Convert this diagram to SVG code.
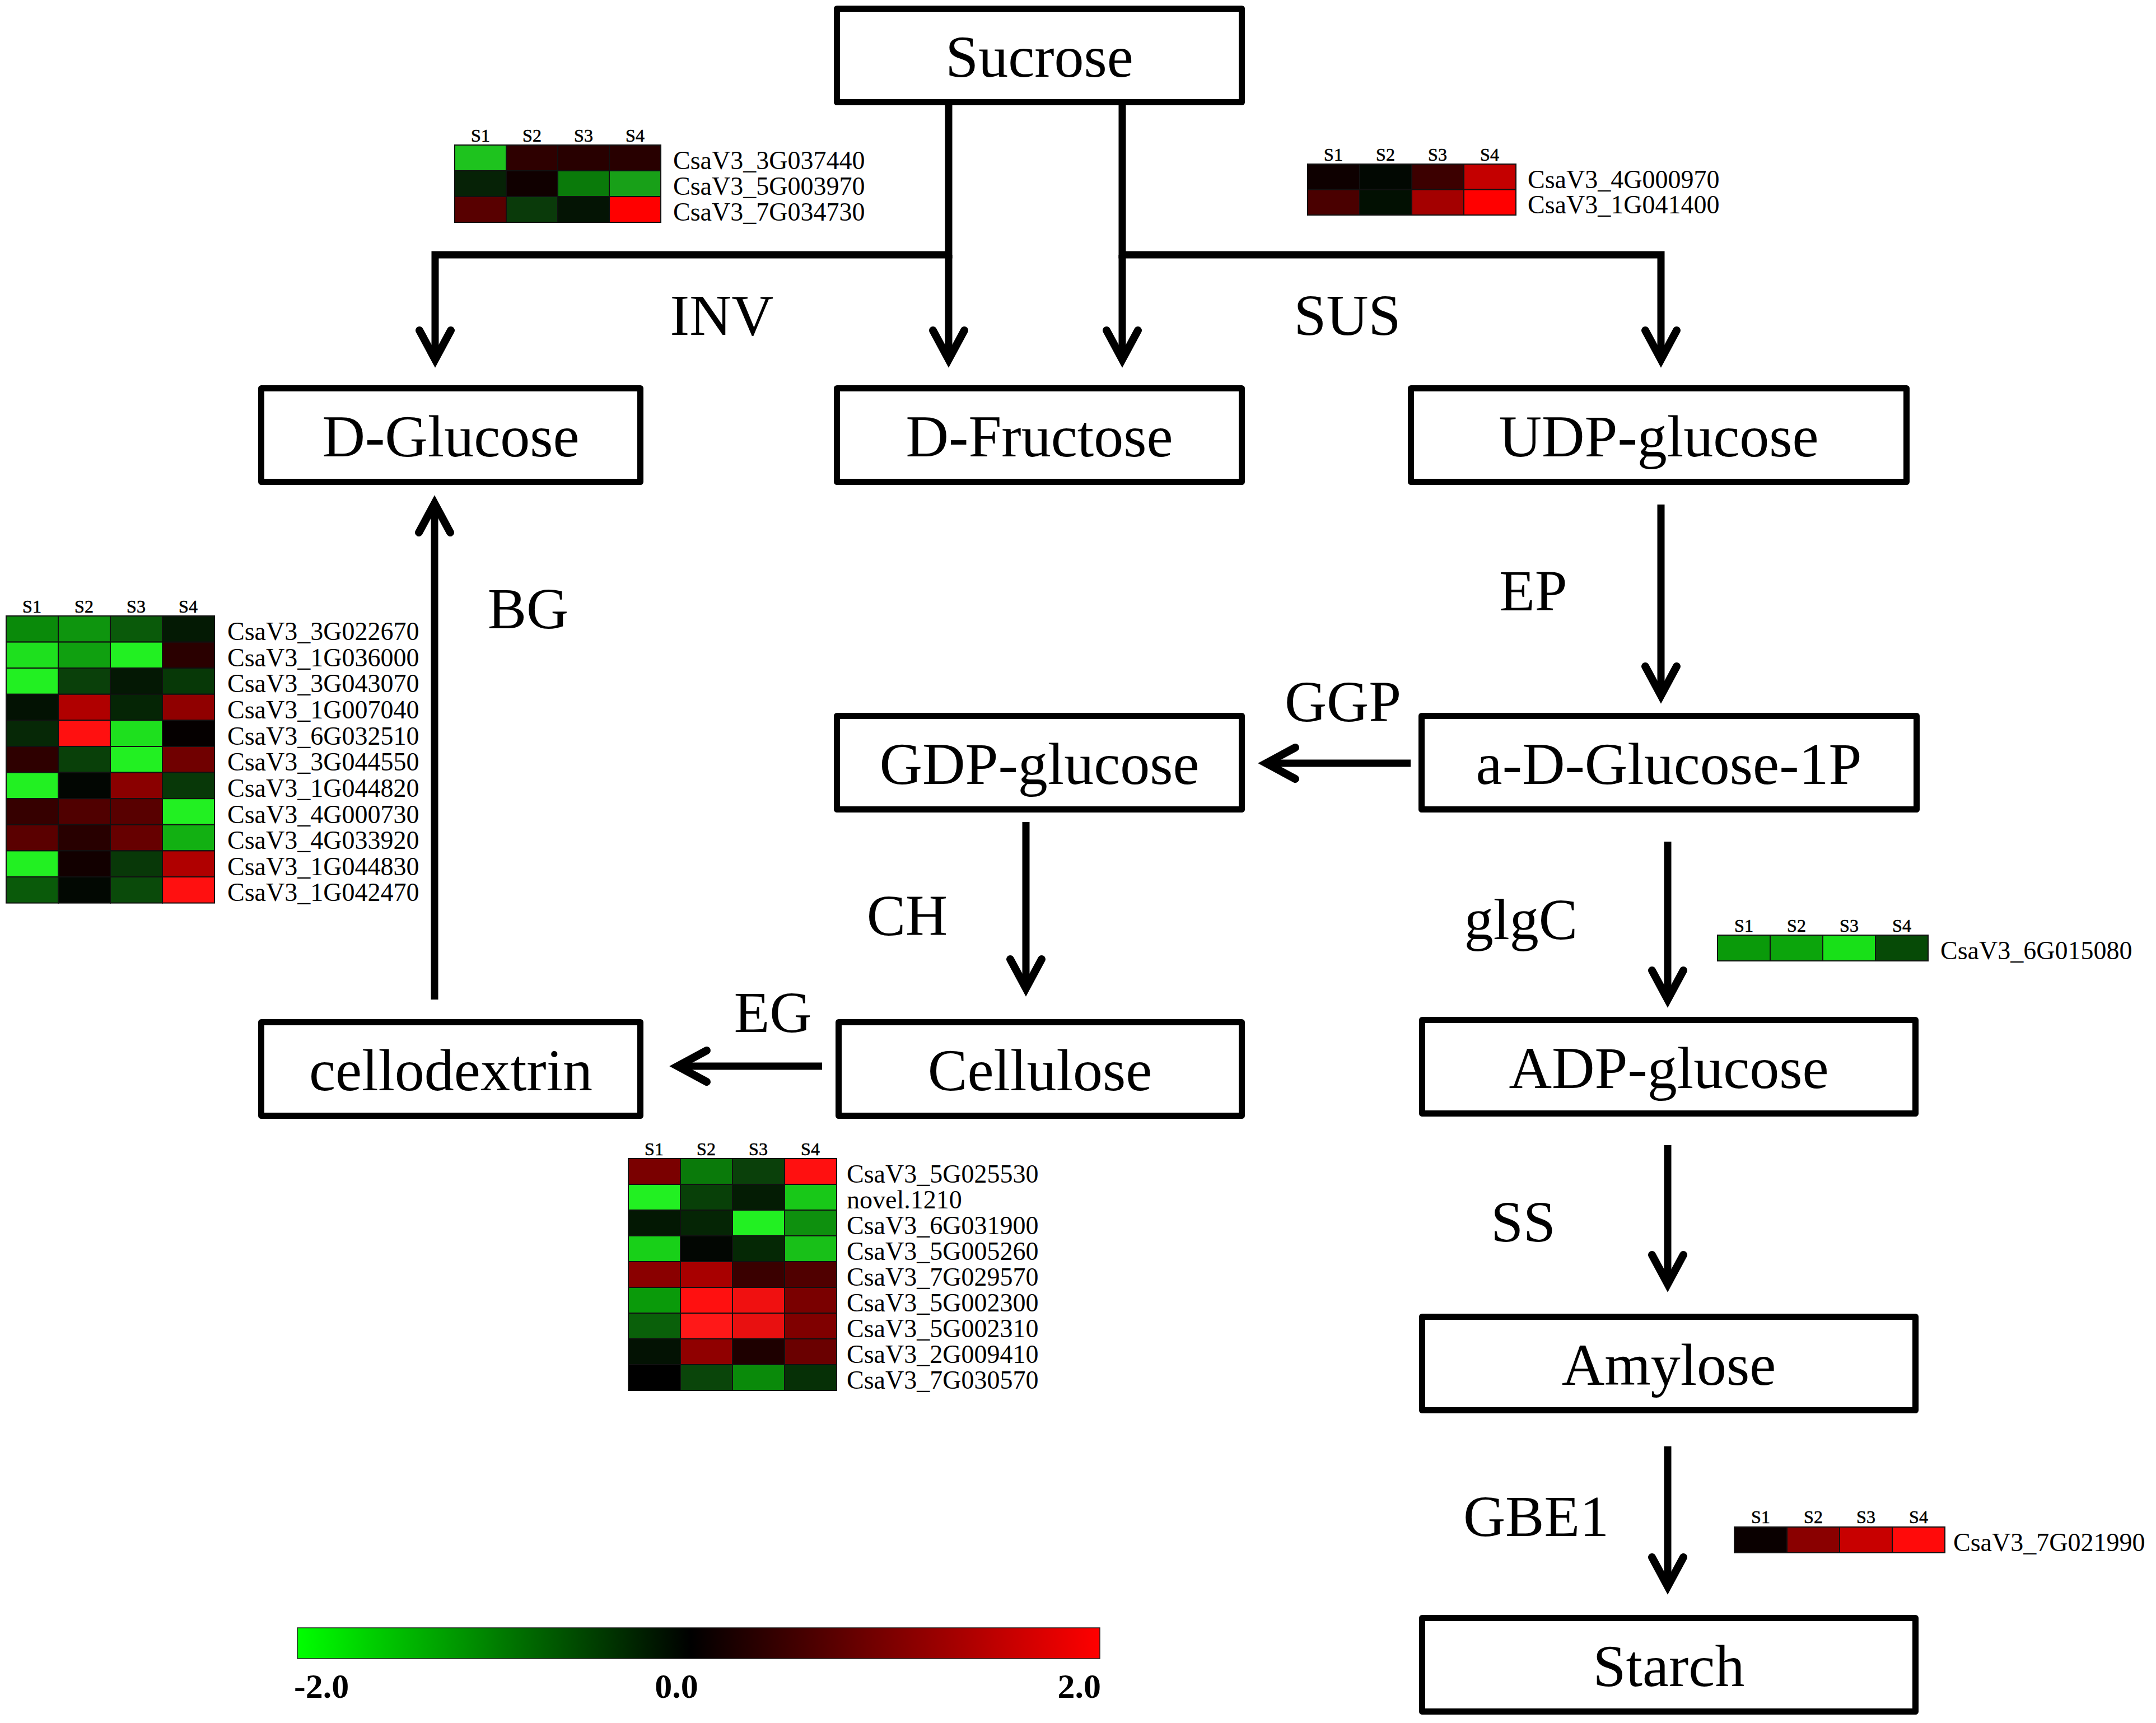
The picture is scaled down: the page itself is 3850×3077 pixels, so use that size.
<svg xmlns="http://www.w3.org/2000/svg" width="3850" height="3077" viewBox="0 0 3850 3077">
<defs>
<style>
.box{fill:#fff;stroke:#000;stroke-width:11;stroke-linejoin:round}
.nt{font-family:"Liberation Serif","Times New Roman",serif;font-size:106px;text-anchor:middle;fill:#000}
.el{font-family:"Liberation Serif","Times New Roman",serif;font-size:104px;text-anchor:middle;fill:#000}
.conn{fill:none;stroke:#000;stroke-width:13;stroke-linejoin:miter;marker-end:url(#ah)}
.hh{font-family:"Liberation Serif","Times New Roman",serif;font-size:32px;text-anchor:middle;fill:#000;stroke:#000;stroke-width:0.6}
.gl{font-family:"Liberation Serif","Times New Roman",serif;font-size:46px;fill:#000}
.hm rect{stroke:#111;stroke-width:2}
.cb{font-family:"Liberation Serif","Times New Roman",serif;font-size:62px;font-weight:bold;fill:#000}
</style>
<marker id="ah" markerUnits="userSpaceOnUse" markerWidth="140" markerHeight="140" viewBox="-70 -70 140 140" refX="0" refY="0" orient="auto" overflow="visible">
<path d="M-47,-28 L5,0 L-47,28" fill="none" stroke="#000" stroke-width="14" stroke-linecap="round" stroke-linejoin="miter" stroke-miterlimit="6"/>
<path d="M18,0 L-20,-14 L-14,0 L-20,14 Z" fill="#000"/>
</marker>
<linearGradient id="scale" x1="0" y1="0" x2="1" y2="0">
<stop offset="0" stop-color="#00ff00"/>
<stop offset="0.49" stop-color="#000000"/>
<stop offset="1" stop-color="#ff0000"/>
</linearGradient>
</defs>
<rect width="3850" height="3077" fill="#fff"/>

<g id="connectors">
<path class="conn" d="M1694,188 V455 H777 V637"/>
<path class="conn" d="M1694,455 V637"/>
<path class="conn" d="M2004,188 V455 H2966 V637"/>
<path class="conn" d="M2004,455 V637"/>
<path class="conn" d="M2966,901 V1237"/>
<path class="conn" d="M2519,1363 H2266"/>
<path class="conn" d="M1832,1468 V1760"/>
<path class="conn" d="M1468,1904 H1215"/>
<path class="conn" d="M776,1785 V904"/>
<path class="conn" d="M2978,1503 V1780"/>
<path class="conn" d="M2978,2045 V2288"/>
<path class="conn" d="M2978,2583 V2828"/>
<text class="el" x="1289" y="598">INV</text>
<text class="el" x="2406" y="598">SUS</text>
<text class="el" x="943" y="1122">BG</text>
<text class="el" x="2738" y="1090">EP</text>
<text class="el" x="2398" y="1288">GGP</text>
<text class="el" x="1620" y="1670">CH</text>
<text class="el" x="1380" y="1843">EG</text>
<text class="el" x="2716" y="1677">glgC</text>
<text class="el" x="2720" y="2217">SS</text>
<text class="el" x="2743" y="2743">GBE1</text>
</g>

<g id="node-sucrose"><rect class="box" x="1494.5" y="15.5" width="723" height="167"/><text class="nt" x="1856" y="137">Sucrose</text></g>
<g id="node-dglucose"><rect class="box" x="466.5" y="693.5" width="677" height="167"/><text class="nt" x="805" y="815">D-Glucose</text></g>
<g id="node-dfructose"><rect class="box" x="1494.5" y="693.5" width="723" height="167"/><text class="nt" x="1856" y="815">D-Fructose</text></g>
<g id="node-udpglucose"><rect class="box" x="2519.5" y="693.5" width="885" height="167"/><text class="nt" x="2962" y="815">UDP-glucose</text></g>
<g id="node-gdpglucose"><rect class="box" x="1494.5" y="1278.5" width="723" height="167"/><text class="nt" x="1856" y="1400">GDP-glucose</text></g>
<g id="node-adglucose1p"><rect class="box" x="2538.5" y="1278.5" width="884" height="167"/><text class="nt" x="2980" y="1400">a-D-Glucose-1P</text></g>
<g id="node-cellodextrin"><rect class="box" x="466.5" y="1825.5" width="677" height="167"/><text class="nt" x="805" y="1947">cellodextrin</text></g>
<g id="node-cellulose"><rect class="box" x="1497.5" y="1825.5" width="720" height="167"/><text class="nt" x="1857" y="1947">Cellulose</text></g>
<g id="node-adpglucose"><rect class="box" x="2539.5" y="1821.5" width="881" height="167"/><text class="nt" x="2980" y="1943">ADP-glucose</text></g>
<g id="node-amylose"><rect class="box" x="2539.5" y="2351.5" width="881" height="167"/><text class="nt" x="2980" y="2473">Amylose</text></g>
<g id="node-starch"><rect class="box" x="2539.5" y="2889.5" width="881" height="167"/><text class="nt" x="2980" y="3011">Starch</text></g>

<g id="heatmap-inv">
<g class="hm" transform="translate(812,259)">
<rect x="0" y="0" width="92" height="46" fill="#1ec31e"/><rect x="92" y="0" width="92" height="46" fill="#2e0000"/><rect x="184" y="0" width="92" height="46" fill="#280000"/><rect x="276" y="0" width="92" height="46" fill="#280000"/>
<rect x="0" y="46" width="92" height="46" fill="#062206"/><rect x="92" y="46" width="92" height="46" fill="#100000"/><rect x="184" y="46" width="92" height="46" fill="#0a7a0a"/><rect x="276" y="46" width="92" height="46" fill="#18a018"/>
<rect x="0" y="92" width="92" height="46" fill="#580000"/><rect x="92" y="92" width="92" height="46" fill="#0a3a0a"/><rect x="184" y="92" width="92" height="46" fill="#041404"/><rect x="276" y="92" width="92" height="46" fill="#ff0000"/>
</g>
<text class="hh" x="858" y="253">S1</text><text class="hh" x="950" y="253">S2</text><text class="hh" x="1042" y="253">S3</text><text class="hh" x="1134" y="253">S4</text>
<text class="gl" x="1202" y="302">CsaV3_3G037440</text>
<text class="gl" x="1202" y="348">CsaV3_5G003970</text>
<text class="gl" x="1202" y="394">CsaV3_7G034730</text>
</g>

<g id="heatmap-sus">
<g class="hm" transform="translate(2335,293)">
<rect x="0" y="0" width="93" height="45.5" fill="#0e0000"/><rect x="93" y="0" width="93" height="45.5" fill="#020802"/><rect x="186" y="0" width="93" height="45.5" fill="#3c0000"/><rect x="279" y="0" width="93" height="45.5" fill="#c40000"/>
<rect x="0" y="45.5" width="93" height="45.5" fill="#4a0000"/><rect x="93" y="45.5" width="93" height="45.5" fill="#021002"/><rect x="186" y="45.5" width="93" height="45.5" fill="#a40000"/><rect x="279" y="45.5" width="93" height="45.5" fill="#ff0000"/>
</g>
<text class="hh" x="2381" y="287">S1</text><text class="hh" x="2474" y="287">S2</text><text class="hh" x="2567" y="287">S3</text><text class="hh" x="2660" y="287">S4</text>
<text class="gl" x="2728" y="336">CsaV3_4G000970</text>
<text class="gl" x="2728" y="381">CsaV3_1G041400</text>
</g>

<g id="heatmap-bg">
<g class="hm" transform="translate(11,1100)">
<rect x="0" y="0" width="93" height="46.6" fill="#0a8a0a"/><rect x="93" y="0" width="93" height="46.6" fill="#0e950e"/><rect x="186" y="0" width="93" height="46.6" fill="#0a5a0a"/><rect x="279" y="0" width="93" height="46.6" fill="#041a04"/>
<rect x="0" y="46.6" width="93" height="46.6" fill="#1ee01e"/><rect x="93" y="46.6" width="93" height="46.6" fill="#10a010"/><rect x="186" y="46.6" width="93" height="46.6" fill="#22f022"/><rect x="279" y="46.6" width="93" height="46.6" fill="#2a0000"/>
<rect x="0" y="93.2" width="93" height="46.6" fill="#22f022"/><rect x="93" y="93.2" width="93" height="46.6" fill="#0a400a"/><rect x="186" y="93.2" width="93" height="46.6" fill="#041804"/><rect x="279" y="93.2" width="93" height="46.6" fill="#073807"/>
<rect x="0" y="139.8" width="93" height="46.6" fill="#031203"/><rect x="93" y="139.8" width="93" height="46.6" fill="#b00000"/><rect x="186" y="139.8" width="93" height="46.6" fill="#052505"/><rect x="279" y="139.8" width="93" height="46.6" fill="#900000"/>
<rect x="0" y="186.4" width="93" height="46.6" fill="#062806"/><rect x="93" y="186.4" width="93" height="46.6" fill="#ff1010"/><rect x="186" y="186.4" width="93" height="46.6" fill="#1ee01e"/><rect x="279" y="186.4" width="93" height="46.6" fill="#050000"/>
<rect x="0" y="233" width="93" height="46.6" fill="#2e0000"/><rect x="93" y="233" width="93" height="46.6" fill="#094009"/><rect x="186" y="233" width="93" height="46.6" fill="#22f022"/><rect x="279" y="233" width="93" height="46.6" fill="#700000"/>
<rect x="0" y="279.6" width="93" height="46.6" fill="#22f022"/><rect x="93" y="279.6" width="93" height="46.6" fill="#020602"/><rect x="186" y="279.6" width="93" height="46.6" fill="#8a0000"/><rect x="279" y="279.6" width="93" height="46.6" fill="#083808"/>
<rect x="0" y="326.2" width="93" height="46.6" fill="#360000"/><rect x="93" y="326.2" width="93" height="46.6" fill="#500000"/><rect x="186" y="326.2" width="93" height="46.6" fill="#580000"/><rect x="279" y="326.2" width="93" height="46.6" fill="#22f022"/>
<rect x="0" y="372.8" width="93" height="46.6" fill="#5a0000"/><rect x="93" y="372.8" width="93" height="46.6" fill="#280000"/><rect x="186" y="372.8" width="93" height="46.6" fill="#660000"/><rect x="279" y="372.8" width="93" height="46.6" fill="#12b012"/>
<rect x="0" y="419.4" width="93" height="46.6" fill="#22f022"/><rect x="93" y="419.4" width="93" height="46.6" fill="#120000"/><rect x="186" y="419.4" width="93" height="46.6" fill="#083808"/><rect x="279" y="419.4" width="93" height="46.6" fill="#b00000"/>
<rect x="0" y="466" width="93" height="46.6" fill="#0a5a0a"/><rect x="93" y="466" width="93" height="46.6" fill="#020802"/><rect x="186" y="466" width="93" height="46.6" fill="#0a4a0a"/><rect x="279" y="466" width="93" height="46.6" fill="#ff1010"/>
</g>
<text class="hh" x="57" y="1094">S1</text><text class="hh" x="150" y="1094">S2</text><text class="hh" x="243" y="1094">S3</text><text class="hh" x="336" y="1094">S4</text>
<text class="gl" x="406" y="1143">CsaV3_3G022670</text>
<text class="gl" x="406" y="1190">CsaV3_1G036000</text>
<text class="gl" x="406" y="1236">CsaV3_3G043070</text>
<text class="gl" x="406" y="1283">CsaV3_1G007040</text>
<text class="gl" x="406" y="1330">CsaV3_6G032510</text>
<text class="gl" x="406" y="1376">CsaV3_3G044550</text>
<text class="gl" x="406" y="1423">CsaV3_1G044820</text>
<text class="gl" x="406" y="1470">CsaV3_4G000730</text>
<text class="gl" x="406" y="1516">CsaV3_4G033920</text>
<text class="gl" x="406" y="1563">CsaV3_1G044830</text>
<text class="gl" x="406" y="1609">CsaV3_1G042470</text>
</g>

<g id="heatmap-ch-eg">
<g class="hm" transform="translate(1122,2069)">
<rect x="0" y="0" width="93" height="46" fill="#7a0000"/><rect x="93" y="0" width="93" height="46" fill="#0a7a0a"/><rect x="186" y="0" width="93" height="46" fill="#0a400a"/><rect x="279" y="0" width="93" height="46" fill="#ff1010"/>
<rect x="0" y="46" width="93" height="46" fill="#22f022"/><rect x="93" y="46" width="93" height="46" fill="#084008"/><rect x="186" y="46" width="93" height="46" fill="#041c04"/><rect x="279" y="46" width="93" height="46" fill="#18c818"/>
<rect x="0" y="92" width="93" height="46" fill="#031803"/><rect x="93" y="92" width="93" height="46" fill="#052505"/><rect x="186" y="92" width="93" height="46" fill="#22f022"/><rect x="279" y="92" width="93" height="46" fill="#0e900e"/>
<rect x="0" y="138" width="93" height="46" fill="#18d018"/><rect x="93" y="138" width="93" height="46" fill="#020602"/><rect x="186" y="138" width="93" height="46" fill="#052805"/><rect x="279" y="138" width="93" height="46" fill="#18c018"/>
<rect x="0" y="184" width="93" height="46" fill="#8a0000"/><rect x="93" y="184" width="93" height="46" fill="#a80000"/><rect x="186" y="184" width="93" height="46" fill="#3a0000"/><rect x="279" y="184" width="93" height="46" fill="#500000"/>
<rect x="0" y="230" width="93" height="46" fill="#0a9a0a"/><rect x="93" y="230" width="93" height="46" fill="#ff1010"/><rect x="186" y="230" width="93" height="46" fill="#f01010"/><rect x="279" y="230" width="93" height="46" fill="#7a0000"/>
<rect x="0" y="276" width="93" height="46" fill="#0a600a"/><rect x="93" y="276" width="93" height="46" fill="#ff1818"/><rect x="186" y="276" width="93" height="46" fill="#e81010"/><rect x="279" y="276" width="93" height="46" fill="#800000"/>
<rect x="0" y="322" width="93" height="46" fill="#031203"/><rect x="93" y="322" width="93" height="46" fill="#900000"/><rect x="186" y="322" width="93" height="46" fill="#1e0000"/><rect x="279" y="322" width="93" height="46" fill="#6a0000"/>
<rect x="0" y="368" width="93" height="46" fill="#000000"/><rect x="93" y="368" width="93" height="46" fill="#0a450a"/><rect x="186" y="368" width="93" height="46" fill="#0a8a0a"/><rect x="279" y="368" width="93" height="46" fill="#063006"/>
</g>
<text class="hh" x="1168" y="2063">S1</text><text class="hh" x="1261" y="2063">S2</text><text class="hh" x="1354" y="2063">S3</text><text class="hh" x="1447" y="2063">S4</text>
<text class="gl" x="1512" y="2112">CsaV3_5G025530</text>
<text class="gl" x="1512" y="2158">novel.1210</text>
<text class="gl" x="1512" y="2204">CsaV3_6G031900</text>
<text class="gl" x="1512" y="2250">CsaV3_5G005260</text>
<text class="gl" x="1512" y="2296">CsaV3_7G029570</text>
<text class="gl" x="1512" y="2342">CsaV3_5G002300</text>
<text class="gl" x="1512" y="2388">CsaV3_5G002310</text>
<text class="gl" x="1512" y="2434">CsaV3_2G009410</text>
<text class="gl" x="1512" y="2480">CsaV3_7G030570</text>
</g>

<g id="heatmap-glgc">
<g class="hm" transform="translate(3067,1670)">
<rect x="0" y="0" width="94" height="46" fill="#0a9a0a"/><rect x="94" y="0" width="94" height="46" fill="#0ca50c"/><rect x="188" y="0" width="94" height="46" fill="#18e018"/><rect x="282" y="0" width="94" height="46" fill="#064a06"/>
</g>
<text class="hh" x="3114" y="1664">S1</text><text class="hh" x="3208" y="1664">S2</text><text class="hh" x="3302" y="1664">S3</text><text class="hh" x="3396" y="1664">S4</text>
<text class="gl" x="3465" y="1713">CsaV3_6G015080</text>
</g>

<g id="heatmap-gbe1">
<g class="hm" transform="translate(3097,2727)">
<rect x="0" y="0" width="94" height="46" fill="#0a0000"/><rect x="94" y="0" width="94" height="46" fill="#8a0000"/><rect x="188" y="0" width="94" height="46" fill="#c80000"/><rect x="282" y="0" width="94" height="46" fill="#ff0a0a"/>
</g>
<text class="hh" x="3144" y="2720">S1</text><text class="hh" x="3238" y="2720">S2</text><text class="hh" x="3332" y="2720">S3</text><text class="hh" x="3426" y="2720">S4</text>
<text class="gl" x="3488" y="2770">CsaV3_7G021990</text>
</g>

<g id="color-scale">
<rect x="531" y="2907" width="1433" height="55" fill="url(#scale)" stroke="#222" stroke-width="1.5"/>
<text class="cb" x="525" y="3032">-2.0</text>
<text class="cb" x="1208" y="3032" text-anchor="middle">0.0</text>
<text class="cb" x="1966" y="3032" text-anchor="end">2.0</text>
</g>
</svg>
